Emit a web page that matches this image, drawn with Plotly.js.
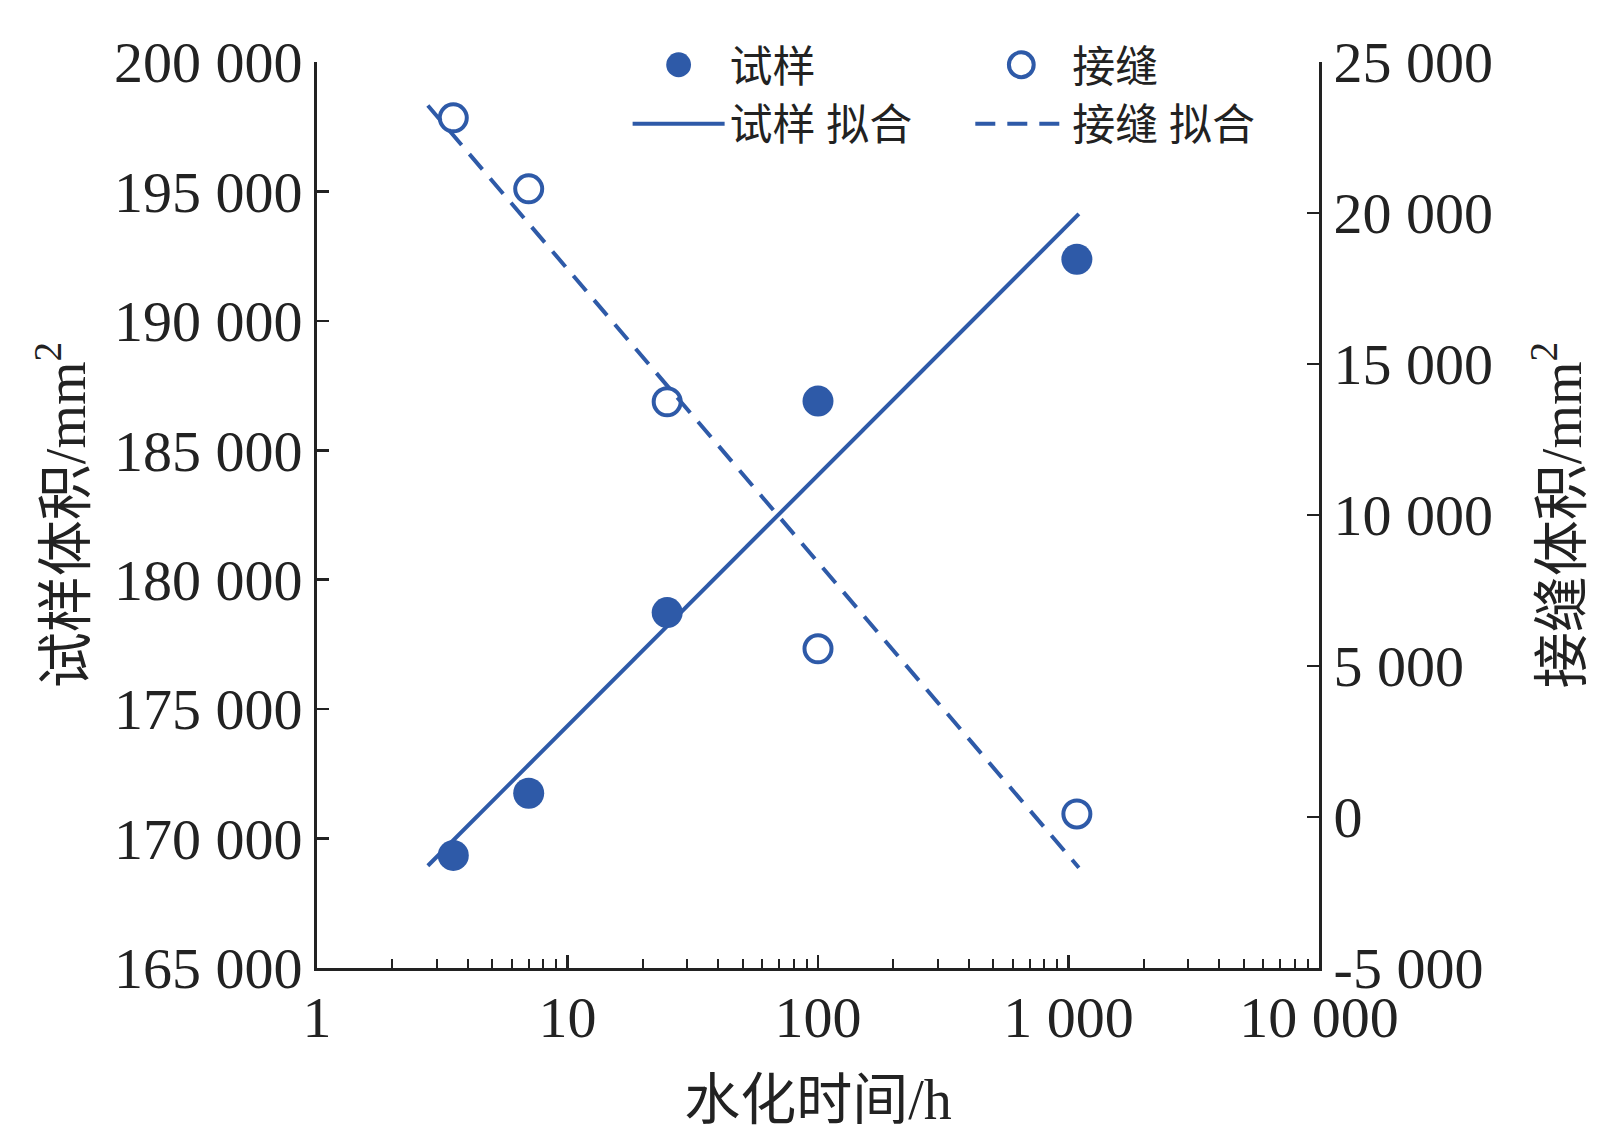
<!DOCTYPE html>
<html>
<head>
<meta charset="utf-8">
<script src="https://cdn.plot.ly/plotly-3.0.1.min.js"></script>
<style>
  html, body { margin: 0; padding: 0; background: #fff; }
  #chart { width: 1619px; height: 1145px; }
</style>
</head>
<body>
<div id="chart"></div>
<script>
// hydration time (h) and measured volumes
var hours = [3.5, 7, 25, 100, 1080]
var specimenVol = [169350, 171750, 178730, 186900, 192380]
var jointVol = [23150, 20800, 13750, 5570, 100]

// end points of the two fitted lines (straight on the log axis)
var fitHours = [2.77, 1100]
var specimenFit = [168950, 194130]
var jointFit = [23560, -1680]

// right axis ticks, printed with a plain hyphen like the source
var jointTicks = [-5000, 0, 5000, 10000, 15000, 20000, 25000]
var jointTickText = ['-5 000', '0', '5 000', '10 000', '15 000', '20 000', '25 000']

var blue = '#2e5aa8'
var ink = '#222222'
var numFont = 'Liberation Serif, Noto Sans CJK SC, serif'
var cjkFont = 'Liberation Serif, Noto Sans CJK SC, sans-serif'

var axisStyle = {
  showline: true,
  linewidth: 3,
  linecolor: ink,
  ticks: 'inside',
  ticklen: 12,
  tickwidth: 2.5,
  tickcolor: ink,
  showgrid: false,
  zeroline: false,
  tickformat: ',d',
  tickfont: {family: numFont, size: 58, color: ink}
}

function axis(extra) {
  return Object.assign({}, axisStyle, extra)
}

var traces = [
  {
    x: fitHours, y: specimenFit, name: '试样 拟合', mode: 'lines',
    line: {color: blue, width: 4},
    legend: 'legend', legendrank: 2
  },
  {
    x: fitHours, y: jointFit, name: '接缝 拟合', mode: 'lines', yaxis: 'y2',
    line: {color: blue, width: 4, dash: '20px,12px'},
    legend: 'legend2', legendrank: 2
  },
  {
    x: hours, y: specimenVol, name: '试样', mode: 'markers',
    marker: {color: blue, size: 31, symbol: 'circle'},
    legend: 'legend', legendrank: 1
  },
  {
    x: hours, y: jointVol, name: '接缝', mode: 'markers', yaxis: 'y2',
    marker: {color: blue, size: 27, symbol: 'circle-open', line: {width: 4, color: blue}},
    legend: 'legend2', legendrank: 1
  }
]

var legendBase = {
  yanchor: 'top', xanchor: 'left', y: 1.035,
  bgcolor: 'rgba(0,0,0,0)',
  borderwidth: 0,
  itemwidth: 92,
  font: {family: cjkFont, size: 43, color: ink}
}

var layout = {
  width: 1619,
  height: 1145,
  margin: {l: 317, r: 300, t: 62, b: 177},
  paper_bgcolor: '#fff',
  plot_bgcolor: '#fff',
  separators: '. ',
  showlegend: true,
  legend: Object.assign({}, legendBase, {x: 0.31}),
  legend2: Object.assign({}, legendBase, {x: 0.652}),
  xaxis: axis({
    type: 'log',
    range: [0, 4],
    dtick: 1,
    ticklen: 13,
    ticklabelstandoff: -4,
    minor: {ticks: 'inside', ticklen: 9, tickwidth: 2, tickcolor: ink, dtick: 'D1', showgrid: false},
    title: {text: '水化时间/h', standoff: 32, font: {family: cjkFont, size: 56, color: ink}}
  }),
  yaxis: axis({
    range: [165000, 200000],
    dtick: 5000,
    ticklabelstandoff: 0,
    title: {text: '试样体积/mm<sup>2</sup>', standoff: 11, font: {family: cjkFont, size: 56, color: ink}}
  }),
  yaxis2: axis({
    overlaying: 'y',
    side: 'right',
    range: [-5000, 25000],
    tickmode: 'array',
    tickvals: jointTicks,
    ticktext: jointTickText,
    ticklabelstandoff: 0,
    title: {text: '接缝体积/mm<sup>2</sup>', standoff: 50, font: {family: cjkFont, size: 56, color: ink}}
  })
}

Plotly.newPlot('chart', traces, layout, {displayModeBar: false, staticPlot: true}).then(function (gd) {
  // legend glyphs are capped at 16px by plotly; the source draws them larger
  gd.querySelectorAll('.infolayer .legendpoints path').forEach(function (p) {
    p.setAttribute('transform', (p.getAttribute('transform') || '') + ' scale(1.55)')
    p.style.vectorEffect = 'non-scaling-stroke'
  })
})
</script>
</body>
</html>
